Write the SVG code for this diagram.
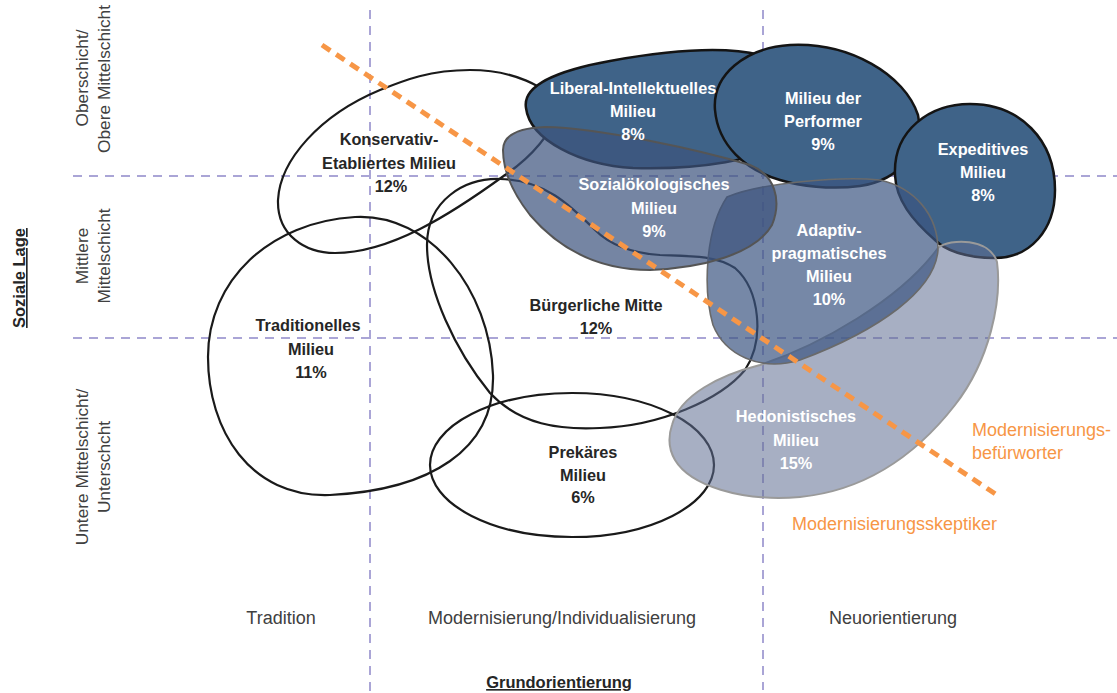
<svg xmlns="http://www.w3.org/2000/svg" width="1117" height="693" viewBox="0 0 1117 693">
<style>
.grid{stroke:#aaa5d6;stroke-width:2;stroke-dasharray:9 7;fill:none}
.outline{fill:none;stroke:#1a1a1a;stroke-width:2.2}
.dark{fill:#3f6388;stroke:#141414;stroke-width:2.5}
.soz{fill:rgb(61,83,125);fill-opacity:0.71;stroke:#555;stroke-width:2}
.ada{fill:rgb(60,85,130);fill-opacity:0.7;stroke:#6a6a6a;stroke-width:1.6}
.hed{fill:rgb(95,110,145);fill-opacity:0.55;stroke:#9a9a9a;stroke-width:2}
.orange{stroke:#f79646;stroke-width:5;stroke-dasharray:10 7;fill:none}
.lw{font-family:"Liberation Sans",Arial,sans-serif;font-weight:bold;font-size:16.3px;fill:#fff;text-anchor:middle}
.lb{font-family:"Liberation Sans",Arial,sans-serif;font-weight:bold;font-size:16.3px;fill:#262626;text-anchor:middle}
.ax{font-family:"Liberation Sans",Arial,sans-serif;font-size:18px;fill:#404040;text-anchor:middle}
.axl{font-family:"Liberation Sans",Arial,sans-serif;font-size:17.3px;fill:#404040;text-anchor:middle}
.axt{font-family:"Liberation Sans",Arial,sans-serif;font-weight:bold;font-size:16.5px;fill:#262626;text-anchor:middle;text-decoration:underline}
.or{font-family:"Liberation Sans",Arial,sans-serif;font-size:18px;fill:#f79646}
</style>
<g id="grid">
<line class="grid" x1="370" y1="10" x2="370" y2="693"/>
<line class="grid" x1="763" y1="10" x2="763" y2="690"/>
<line class="grid" x1="73" y1="176" x2="1117" y2="176"/>
<line class="grid" x1="73" y1="338" x2="1117" y2="338"/>
</g>
<g id="konservativ">
<path class="outline" d="M 560,110 C 550,85 510,70 470,70 C 430,70 405,80 380,90 C 320,115 280,160 278,200 C 277,235 305,253 335,253 C 390,253 450,215 505,175 C 530,158 550,135 560,110 Z"/>
</g>
<g id="traditionelles">
<path class="outline" d="M 208,357 C 208,280 270,222 355,217 C 430,213 490,290 493,375 C 495,450 430,490 330,495 C 250,498 208,430 208,357 Z"/>
</g>
<g id="buergerliche">
<path class="outline" d="M 500,179 C 465,178 427,200 427,245 C 427,290 455,350 490,393 C 520,425 560,430 600,428 C 660,426 720,400 745,370 C 765,340 760,290 735,268 C 715,255 690,256 660,255 C 630,253 610,245 595,230 C 570,205 545,180 500,179 Z"/>
</g>
<g id="prekaeres">
<ellipse class="outline" cx="572" cy="465" rx="142" ry="72"/>
</g>
<g id="liberal">
<path class="dark" d="M 526,108 C 522,85 560,70 610,61 C 660,52 720,45 760,55 L 790,140 C 760,160 700,170 633,168 C 580,165 530,140 526,108 Z"/>
</g>
<g id="performer">
<path class="dark" d="M 715,110 C 712,75 745,48 790,45 C 850,42 905,75 918,115 C 925,150 900,180 860,186 C 830,190 800,186 780,180 C 745,170 718,145 715,110 Z"/>
</g>
<g id="expeditives">
<path class="dark" d="M 895,175 C 893,130 930,104 970,104 C 1020,104 1055,140 1055,190 C 1055,230 1030,258 995,258 C 965,258 945,250 935,240 C 912,220 896,200 895,175 Z"/>
</g>
<g id="hedonistisches">
<path class="hed" d="M 672,425 C 680,395 720,375 760,365 C 820,345 900,300 938,248 C 950,238 990,238 997,262 C 1002,300 990,360 955,405 C 920,450 870,490 800,497 C 740,502 690,485 675,460 C 668,448 668,437 672,425 Z"/>
</g>
<g id="adaptiv">
<path class="ada" d="M 727,197 C 760,183 840,176 880,180 C 915,188 938,215 938,250 C 935,290 880,330 800,360 C 760,372 725,355 713,325 C 703,290 705,230 727,197 Z"/>
</g>
<g id="sozial">
<path class="soz" d="M 503,150 C 503,135 520,128 545,127 C 600,128 700,150 750,165 C 775,175 782,200 772,225 C 755,255 700,268 650,270 C 600,270 560,250 530,215 C 512,192 503,170 503,150 Z"/>
</g>
<g id="connectors">
<line class="orange" x1="322" y1="45" x2="997" y2="495"/>
</g>
<g id="labels">
<text class="lw" x="633" y="94">Liberal-Intellektuelles</text>
<text class="lw" x="633" y="117">Milieu</text>
<text class="lw" x="633" y="140">8%</text>
<text class="lw" x="823" y="104">Milieu der</text>
<text class="lw" x="823" y="127">Performer</text>
<text class="lw" x="823" y="150">9%</text>
<text class="lw" x="983" y="155">Expeditives</text>
<text class="lw" x="983" y="178">Milieu</text>
<text class="lw" x="983" y="201">8%</text>
<text class="lw" x="654" y="190">Sozialökologisches</text>
<text class="lw" x="654" y="214">Milieu</text>
<text class="lw" x="654" y="237">9%</text>
<text class="lw" x="829" y="236">Adaptiv-</text>
<text class="lw" x="829" y="259">pragmatisches</text>
<text class="lw" x="829" y="282">Milieu</text>
<text class="lw" x="829" y="305">10%</text>
<text class="lw" x="796" y="422">Hedonistisches</text>
<text class="lw" x="796" y="446">Milieu</text>
<text class="lw" x="796" y="469">15%</text>
<text class="lb" x="389" y="145">Konservativ-</text>
<text class="lb" x="389" y="169">Etabliertes Milieu</text>
<text class="lb" x="391" y="192">12%</text>
<text class="lb" x="308" y="331">Traditionelles</text>
<text class="lb" x="311" y="355">Milieu</text>
<text class="lb" x="311" y="378">11%</text>
<text class="lb" x="596" y="311">Bürgerliche Mitte</text>
<text class="lb" x="596" y="334">12%</text>
<text class="lb" x="583" y="458">Prekäres</text>
<text class="lb" x="583" y="481">Milieu</text>
<text class="lb" x="583" y="503">6%</text>
</g>
<g id="axes">
<text class="ax" x="281" y="624">Tradition</text>
<text class="ax" x="562" y="624">Modernisierung/Individualisierung</text>
<text class="ax" x="893" y="624">Neuorientierung</text>
<text class="axt" x="559" y="688">Grundorientierung</text>
<text class="axt" transform="translate(25,278) rotate(-90)">Soziale Lage</text>
<text class="axl" transform="translate(88,78) rotate(-90)">Oberschicht/</text>
<text class="axl" transform="translate(110,79) rotate(-90)">Obere Mittelschicht</text>
<text class="axl" transform="translate(88,256) rotate(-90)">Mittlere</text>
<text class="axl" transform="translate(110,256) rotate(-90)">Mittelschicht</text>
<text class="axl" transform="translate(88,467) rotate(-90)">Untere Mittelschicht/</text>
<text class="axl" transform="translate(110,467) rotate(-90)">Unterschcht</text>
<text class="or" x="972" y="436">Modernisierungs-</text>
<text class="or" x="972" y="459">befürworter</text>
<text class="or" x="792" y="530">Modernisierungsskeptiker</text>
</g>
</svg>
